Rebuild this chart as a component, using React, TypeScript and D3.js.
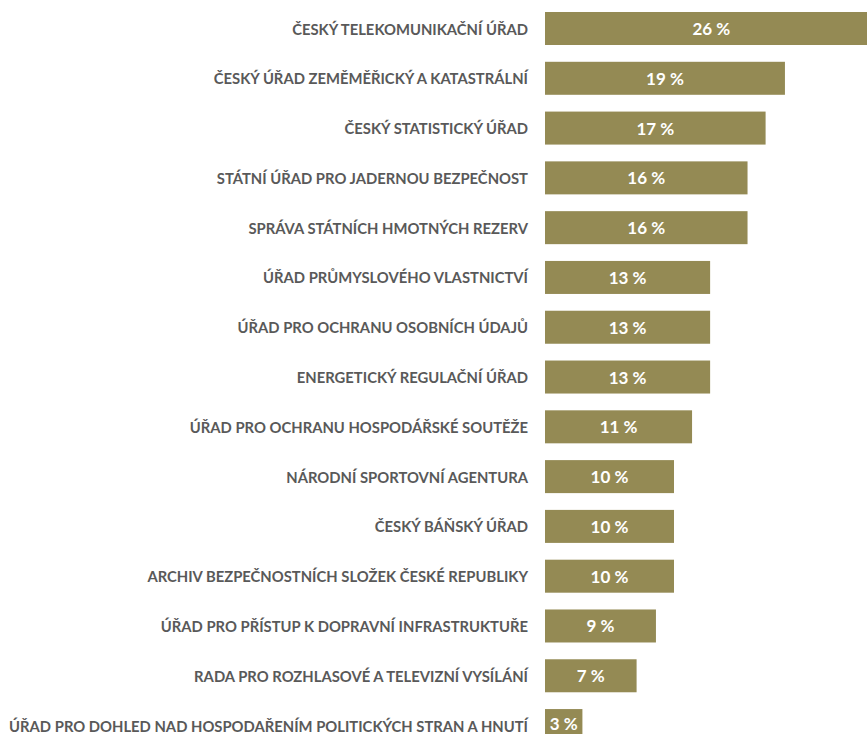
import React from "react";
import * as d3 from "d3";

const categories: string[] = [
  "ČESKÝ TELEKOMUNIKAČNÍ ÚŘAD",
  "ČESKÝ ÚŘAD ZEMĚMĚŘICKÝ A KATASTRÁLNÍ",
  "ČESKÝ STATISTICKÝ ÚŘAD",
  "STÁTNÍ ÚŘAD PRO JADERNOU BEZPEČNOST",
  "SPRÁVA STÁTNÍCH HMOTNÝCH REZERV",
  "ÚŘAD PRŮMYSLOVÉHO VLASTNICTVÍ",
  "ÚŘAD PRO OCHRANU OSOBNÍCH ÚDAJŮ",
  "ENERGETICKÝ REGULAČNÍ ÚŘAD",
  "ÚŘAD PRO OCHRANU HOSPODÁŘSKÉ SOUTĚŽE",
  "NÁRODNÍ SPORTOVNÍ AGENTURA",
  "ČESKÝ BÁŇSKÝ ÚŘAD",
  "ARCHIV BEZPEČNOSTNÍCH SLOŽEK ČESKÉ REPUBLIKY",
  "ÚŘAD PRO PŘÍSTUP K DOPRAVNÍ INFRASTRUKTUŘE",
  "RADA PRO ROZHLASOVÉ A TELEVIZNÍ VYSÍLÁNÍ",
  "ÚŘAD PRO DOHLED NAD HOSPODAŘENÍM POLITICKÝCH STRAN A HNUTÍ",
];

const values: number[] = [25.8, 18.6, 17.1, 15.7, 15.7, 12.8, 12.8, 12.8, 11.4, 10.0, 10.0, 10.0, 8.6, 7.1, 2.9];

const W = 867;
const H = 734;
const BAR_COLOR = "#948A54";
const LABEL_COLOR = "#595959";

export default function App() {
  const step = 49.79;
  const pad = 1 - 33 / step;
  const r0 = 12 - step * (pad / 2);
  const y = d3
    .scaleBand<string>()
    .domain(categories)
    .range([r0, r0 + step * categories.length])
    .paddingInner(pad)
    .paddingOuter(pad / 2);
  const x = d3.scaleLinear().domain([0, 26]).range([545, 545 + 26 * 12.9]);

  return (
    <svg
      width={W}
      height={H}
      style={{ position: "absolute", left: 0, top: 0, background: "#fff" }}
      fontFamily="Lato, 'Open Sans', sans-serif"
    >
      {categories.map((c, i) => {
        const yy = y(c)!;
        const bw = y.bandwidth();
        const xEnd = x(values[i]);
        const cy = yy + bw / 2;
        const vy = Math.min(cy, H - 11);
        return (
          <g key={c}>
            <text
              x={528}
              y={cy}
              textAnchor="end"
              dominantBaseline="central"
              fontSize={14.8}
              fontWeight={700}
              fill={LABEL_COLOR}
            >
              {c}
            </text>
            <rect x={x(0)} y={yy} width={xEnd - x(0)} height={bw} fill={BAR_COLOR} />
            <text
              x={(x(0) + xEnd) / 2}
              y={vy}
              textAnchor="middle"
              dominantBaseline="central"
              fontSize={17}
              fontWeight={700}
              fill="#ffffff"
            >
              {`${Math.round(values[i])} %`}
            </text>
          </g>
        );
      })}
    </svg>
  );
}
